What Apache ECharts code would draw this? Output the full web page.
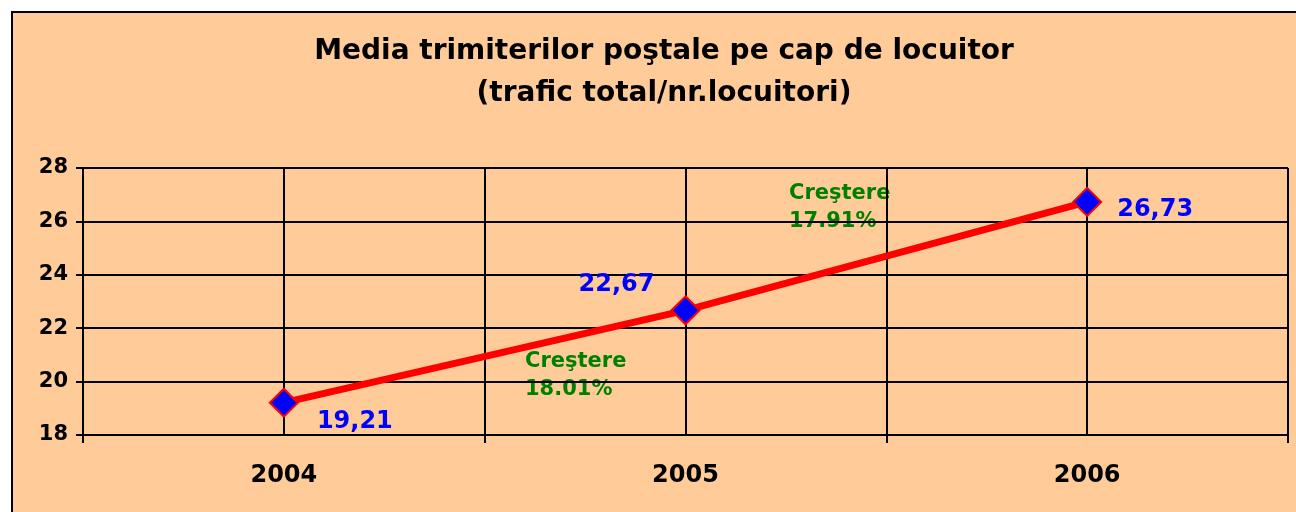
<!DOCTYPE html>
<html>
<head>
<meta charset="utf-8">
<script src="https://cdn.jsdelivr.net/npm/echarts@6/dist/echarts.min.js"></script>
<style>
  html, body { margin: 0; padding: 0; background: #fff; }
  #chart { width: 1296px; height: 512px; }
</style>
</head>
<body>
<div id="chart"></div>
<script>
var years = ['2004', '2005', '2006']
var values = [19.21, 22.67, 26.73]
var yTicks = [18, 20, 22, 24, 26, 28]
var growthLabel = 'Creştere'

var font = 'DejaVu Sans'
var labelOffsets = [[71, 19], [-69, -26], [68, 8]]

var growth = values.slice(1).map(function (v, i) {
  return ((v / values[i] - 1) * 100).toFixed(2) + '%'
})

var myChart = echarts.init(document.getElementById('chart'))
myChart.setOption({
  backgroundColor: '#fff',
  animation: false,
  textStyle: { fontFamily: font },
  graphic: [{
    type: 'rect',
    z: -10,
    shape: { x: 12, y: 12, width: 1300, height: 520 },
    style: { fill: '#FFCC99', stroke: '#000', lineWidth: 2 }
  }, {
    type: 'text',
    left: 525, top: 348,
    style: { text: growthLabel + '\n' + growth[0], fill: '#008000', font: 'bold 21px "DejaVu Sans"', lineHeight: 28 }
  }, {
    type: 'text',
    left: 789, top: 180,
    style: { text: growthLabel + '\n' + growth[1], fill: '#008000', font: 'bold 21px "DejaVu Sans"', lineHeight: 28 }
  }],
  title: {
    text: 'Media trimiterilor poştale pe cap de locuitor\n(trafic total/nr.locuitori)',
    left: 659,
    textAlign: 'center',
    top: 26,
    textStyle: { fontFamily: font, fontWeight: 'bold', fontSize: 28, color: '#000', lineHeight: 42 }
  },
  grid: { left: 83, right: 8, top: 168, bottom: 77 },
  xAxis: {
    type: 'category',
    data: years,
    boundaryGap: true,
    axisLine: { lineStyle: { color: '#000', width: 2 } },
    axisTick: { show: true, length: 8, lineStyle: { color: '#000', width: 2 } },
    axisLabel: { color: '#000', fontWeight: 'bold', fontSize: 24, margin: 29, fontFamily: font },
    splitLine: { show: true, lineStyle: { color: '#000', width: 2 } }
  },
  yAxis: {
    type: 'value',
    min: yTicks[0],
    max: yTicks[yTicks.length - 1],
    interval: 2,
    axisLine: { show: true, lineStyle: { color: '#000', width: 2 } },
    axisTick: { show: true, length: 7, lineStyle: { color: '#000', width: 2 } },
    axisLabel: { color: '#000', fontWeight: 'bold', fontSize: 21, margin: 15, fontFamily: font },
    splitLine: { show: true, lineStyle: { color: '#000', width: 2 } }
  },
  series: [{
    type: 'line',
    data: values.map(function (v, i) {
      return {
        value: v,
        label: { offset: labelOffsets[i] }
      }
    }),
    lineStyle: { color: '#FF0000', width: 7 },
    symbol: 'diamond',
    symbolSize: 28,
    itemStyle: { color: '#0000FF', borderColor: '#FF0000', borderWidth: 2 },
    label: {
      show: true,
      position: 'inside',
      color: '#0000FF',
      fontWeight: 'bold',
      fontSize: 24,
      fontFamily: font,
      formatter: function (p) { return String(p.value).replace('.', ',') }
    },
    markLine: {
      silent: true,
      symbol: 'none',
      label: { show: false },
      lineStyle: { color: '#000', width: 2, type: 'solid' },
      data: years.map(function (y) { return { xAxis: y } })
    },
    z: 5
  }]
})
</script>
</body>
</html>
